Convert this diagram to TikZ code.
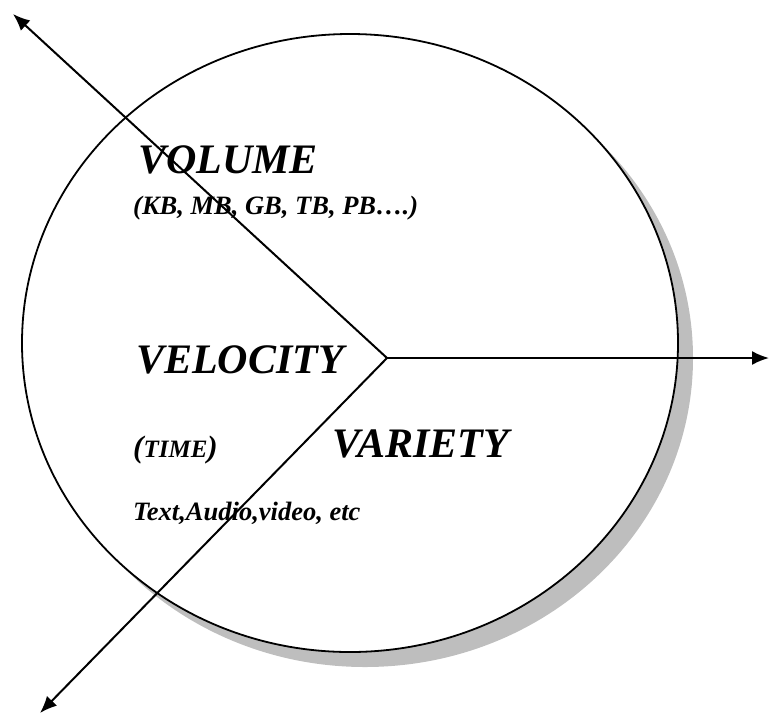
\documentclass[tikz,border=0pt]{standalone}
\usepackage{fontspec}
\setmainfont{Liberation Serif}
\usetikzlibrary{arrows.meta}
\definecolor{shd}{HTML}{BEBEBE}
\tikzset{
  big/.style={anchor=base west,inner sep=0pt,font=\fontsize{42}{44}\selectfont\bfseries\itshape},
  sml/.style={big,font=\fontsize{26.5}{28}\selectfont\bfseries\itshape},
  ar/.style={-{Latex[length=17pt,width=14pt]},line width=2pt},
}

\begin{document}
\begin{tikzpicture}[x=1pt,y=-1pt]
\useasboundingbox (0,0) rectangle (770,713);
% shadow and disc
\fill[shd] (365,358) ellipse [x radius=328,y radius=309];
\draw[line width=1.8pt,fill=white] (350,343) ellipse [x radius=328,y radius=309];
% the three V's
\node[big] (vol) at (138,173) {VOLUME};
\node[sml] (units) at (133,214) {(KB, MB, GB, TB, PB….)};
\node[big] (vel) at (136,373) {VELOCITY};
\node[sml] (time) at (133,457) {\fontsize{31}{32}\selectfont(\fontsize{25}{26}\selectfont TIME\fontsize{31}{32}\selectfont)};
\node[big] (var) at (332,457) {VARIETY};
\node[sml] (kinds) at (133,520) {Text,Audio,video, etc};
% arrows
\coordinate (c) at (387,358);
\coordinate (ul) at (13,14);
\coordinate (r) at (769,358);
\coordinate (ll) at (40,713);
\draw[ar] (c) -- (ul);
\draw[ar] (c) -- (r);
\draw[ar] (c) -- (ll);
\end{tikzpicture}
\end{document}
